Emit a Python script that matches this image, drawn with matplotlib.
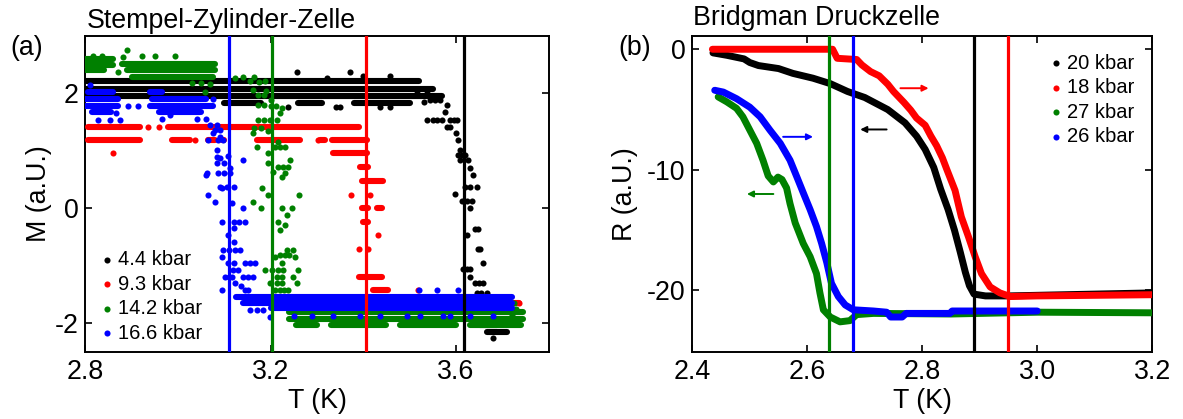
"""Two-panel figure: M(T) in piston-cylinder cell and R(T) in Bridgman cell."""

import matplotlib
matplotlib.use('Agg')
import matplotlib.pyplot as plt

plt.rcParams['font.family'] = ['Liberation Sans', 'DejaVu Sans']
plt.rcParams['axes.unicode_minus'] = False

# ---------------- panel (a): magnetisation, scattered digitised readings ----------------
# runs of consecutive readings at one level: (T_start, T_end, M)
BLACK_RUNS = [(2.800, 3.520, 2.22), (2.800, 3.550, 2.08), (2.800, 3.570, 1.95),
              (3.100, 3.180, 1.84), (3.260, 3.310, 1.84), (3.380, 3.500, 1.84),
              (3.652, 3.688, -2.03), (3.666, 3.710, -2.15)]
BLACK_T = [3.256, 3.371, 3.321, 3.400, 3.457, 3.237, 3.342, 3.436, 3.457, 3.350,
           3.516, 3.537, 3.530, 3.544, 3.555, 3.565, 3.537, 3.550, 3.560, 3.570,
           3.576, 3.580, 3.587, 3.595, 3.602, 3.580, 3.587, 3.600, 3.605, 3.609,
           3.605, 3.613, 3.620, 3.609, 3.626, 3.630, 3.637, 3.619, 3.630, 3.645,
           3.598, 3.613, 3.623, 3.634, 3.630, 3.641, 3.647, 3.624, 3.647, 3.652,
           3.659, 3.615, 3.623, 3.630, 3.630, 3.641, 3.650, 3.659, 3.645, 3.655,
           3.666, 3.670, 3.680, 3.680]
BLACK_M = [2.38, 2.38, 2.27, 2.30, 2.30, 1.77, 1.77, 1.77, 1.77, 1.77,
           2.00, 2.00, 1.85, 1.89, 1.89, 1.89, 1.54, 1.54, 1.54, 1.54,
           1.68, 1.80, 1.54, 1.54, 1.54, 1.42, 1.42, 1.31, 1.19, 1.02,
           0.93, 0.93, 0.93, 0.84, 0.84, 0.70, 0.58, 0.37, 0.37, 0.37,
           0.25, 0.12, 0.12, 0.12, 0.00, -0.36, -0.36, -0.46, -0.71, -0.71,
           -0.95, -1.06, -1.06, -1.06, -1.19, -1.30, -1.30, -1.30, -1.47, -1.47,
           -1.47, -1.70, -1.80, -2.26]

RED_RUNS = [(2.806, 2.918, 1.41), (2.978, 3.390, 1.41),
            (2.806, 2.918, 1.19), (2.987, 3.026, 1.19), (3.065, 3.080, 1.19),
            (3.095, 3.100, 1.19), (3.171, 3.263, 1.19), (3.306, 3.317, 1.19),
            (3.332, 3.407, 1.19), (3.335, 3.407, 0.96), (3.393, 3.410, 0.72),
            (3.397, 3.442, 0.47), (3.397, 3.410, 0.00), (3.430, 3.440, 0.00),
            (3.400, 3.410, -0.23), (3.390, 3.440, -1.19), (3.420, 3.453, -1.42),
            (3.440, 3.735, -1.65)]
RED_T = [2.935, 2.960, 3.037, 3.303, 2.860, 3.373, 3.414, 3.432, 3.391, 3.410, 3.518, 3.735]
RED_M = [1.41, 1.41, 1.19, 1.19, 0.96, 0.23, 0.23, -0.46, -0.71, -0.71, -1.42, -1.65]

GREEN_RUNS = [(2.800, 2.860, 2.60), (2.800, 2.860, 2.49), (2.800, 2.840, 2.40),
              (2.880, 3.080, 2.52), (2.890, 3.080, 2.40), (2.900, 3.075, 2.29),
              (3.240, 3.745, -1.80), (3.240, 3.745, -1.92), (3.255, 3.300, -2.03),
              (3.330, 3.450, -2.03), (3.480, 3.600, -2.03), (3.630, 3.740, -2.03)]
GREEN_T = [2.836, 2.816, 2.889, 2.882, 2.922, 2.950, 2.994, 2.870, 3.030, 3.050, 3.070, 3.058,
           3.123, 3.140, 3.155, 3.165, 3.175, 3.188, 3.162, 3.172, 3.185, 3.200, 3.190,
           3.172, 3.185, 3.200, 3.212, 3.224, 3.220, 3.172, 3.185, 3.198, 3.213,
           3.165, 3.180, 3.195, 3.162, 3.216, 3.170, 3.210, 3.220, 3.230,
           3.194, 3.194, 3.216, 3.226, 3.237, 3.242, 3.205, 3.224, 3.231,
           3.181, 3.194, 3.162, 3.180, 3.224, 3.246, 3.261,
           3.216, 3.231, 3.220, 3.235, 3.235, 3.248, 3.220, 3.230, 3.240, 3.209, 3.252,
           3.188, 3.203, 3.216, 3.227, 3.259, 3.224, 3.213, 3.224, 3.213, 3.224,
           3.248, 3.256, 3.198, 3.209, 3.220, 3.228, 3.237, 3.198, 3.206, 3.213,
           3.725, 3.730, 3.720]
GREEN_M = [2.66, 2.66, 2.76, 2.64, 2.66, 2.66, 2.66, 2.38, 2.18, 2.18, 2.16, 2.03,
           2.27, 2.28, 2.22, 2.28, 2.20, 2.22, 2.06, 1.97, 1.97, 1.89, 2.05,
           1.80, 1.80, 1.78, 1.78, 1.75, 1.66, 1.54, 1.54, 1.54, 1.54,
           1.40, 1.40, 1.35, 1.31, 1.16, 1.07, 1.07, 1.07, 1.07,
           0.96, 0.79, 0.72, 0.72, 0.72, 0.84, 0.63, 0.55, 0.62,
           0.35, 0.23, 0.11, 0.00, 0.00, 0.00, 0.23,
           -0.24, -0.29, -0.38, -0.11, -0.72, -0.72, -0.81, -0.81, -0.81, -0.85, -0.85,
           -1.07, -1.07, -1.07, -1.07, -1.07, -0.95, -1.19, -1.19, -1.30, -1.30,
           -1.19, -1.30, -1.30, -1.42, -1.42, -1.42, -1.42, -1.59, -1.59, -1.59,
           -1.65, -1.75, -1.85]

BLUE_RUNS = [(2.805, 2.860, 2.03), (2.800, 2.870, 1.91), (2.800, 2.870, 1.79),
             (2.815, 2.855, 1.67), (2.940, 2.965, 2.03), (2.945, 3.060, 1.91),
             (2.940, 3.075, 1.79), (2.960, 3.050, 1.67),
             (3.125, 3.720, -1.55), (3.140, 3.720, -1.65), (3.200, 3.720, -1.74)]
BLUE_T = [2.810, 2.827, 2.853, 2.875, 2.866, 2.892, 2.914, 2.965, 2.983, 3.041, 3.060, 3.076,
          3.070, 3.085, 3.080, 3.090, 3.076, 3.090, 3.097, 3.065, 3.087,
          3.084, 3.084, 3.084, 3.090, 3.100, 3.112, 3.108, 3.141, 3.060,
          3.062, 3.087, 3.100, 3.112, 3.090, 3.105, 3.120, 3.095, 3.065, 3.080,
          3.117, 3.141, 3.120, 3.132, 3.145, 3.095, 3.120, 3.108, 3.120,
          3.098, 3.110, 3.122, 3.134, 3.095, 3.108, 3.120, 3.130, 3.118,
          3.145, 3.155, 3.166, 3.102, 3.110, 3.117, 3.141, 3.152, 3.162,
          3.095, 3.123, 3.135, 3.145, 3.152, 3.156, 3.170, 3.184, 3.198,
          3.520, 3.560, 3.605, 3.335, 3.393, 3.436, 3.494, 3.522, 3.572,
          3.587, 3.630, 3.680, 3.250, 3.290]
BLUE_M = [2.15, 1.54, 1.54, 1.54, 1.66, 1.79, 1.79, 1.55, 1.62, 1.55, 1.55, 1.90,
          1.45, 1.45, 1.36, 1.36, 1.31, 1.25, 1.19, 1.19, 1.19,
          1.02, 0.90, 0.79, 0.88, 0.79, 0.70, 0.91, 0.84, 0.58,
          0.62, 0.62, 0.62, 0.62, 0.37, 0.37, 0.37, 0.35, 0.23, 0.11,
          0.09, 0.00, -0.24, -0.24, -0.24, -0.24, -0.35, -0.46, -0.58,
          -0.72, -0.72, -0.72, -0.72, -0.85, -0.95, -0.95, -1.07, -1.07,
          -0.95, -0.95, -0.95, -1.19, -1.19, -1.19, -1.19, -1.19, -1.19,
          -1.42, -1.30, -1.35, -1.42, -1.42, -1.77, -1.77, -1.77, -1.89,
          -1.42, -1.42, -1.42, -1.88, -1.88, -1.88, -1.88, -1.88, -1.88,
          -1.88, -1.88, -1.88, -1.87, -1.87]

LABELS_A = ['4.4 kbar', '9.3 kbar', '14.2 kbar', '16.6 kbar']
TC_A = [3.617, 3.406, 3.202, 3.111]   # black, red, green, blue

# ---------------- panel (b): resistance ----------------
BLACK_RT = [2.436, 2.460, 2.490, 2.500, 2.515, 2.550, 2.575, 2.610, 2.640, 2.670, 2.700,
            2.740, 2.770, 2.790, 2.805, 2.820, 2.832, 2.845, 2.856, 2.866, 2.875, 2.882,
            2.890, 2.910, 2.950, 3.050, 3.200]
BLACK_R = [-0.3, -0.5, -0.8, -1.1, -1.35, -1.6, -2.0, -2.4, -2.85, -3.5, -4.0,
           -5.0, -6.1, -7.2, -8.3, -9.8, -11.6, -13.3, -15.0, -16.8, -18.5, -19.6,
           -20.3, -20.45, -20.45, -20.35, -20.2]

RED_RT = [2.435, 2.644, 2.652, 2.686, 2.695, 2.710, 2.725, 2.740, 2.750, 2.768, 2.780,
          2.790, 2.805, 2.815, 2.825, 2.835, 2.843, 2.857, 2.868, 2.880, 2.892, 2.903,
          2.918, 2.935, 2.953, 3.000, 3.100, 3.200]
RED_R = [0.0, 0.0, -0.75, -0.85, -1.3, -1.85, -2.2, -2.9, -3.5, -4.4, -5.05,
         -5.7, -6.3, -7.2, -8.0, -9.0, -10.0, -11.7, -13.9, -15.5, -17.2, -18.6,
         -19.7, -20.2, -20.5, -20.45, -20.4, -20.35]

GREEN_RT = [2.445, 2.460, 2.477, 2.488, 2.500, 2.512, 2.523, 2.532, 2.541, 2.549, 2.556,
            2.564, 2.570, 2.579, 2.593, 2.605, 2.616, 2.622, 2.628, 2.640, 2.657, 2.674,
            2.686, 2.715, 2.850, 3.000, 3.200]
GREEN_R = [-3.95, -4.36, -4.9, -5.6, -6.7, -7.8, -9.2, -10.5, -11.0, -10.6, -10.8,
           -11.5, -12.8, -14.4, -16.1, -17.2, -18.6, -20.2, -21.6, -22.2, -22.6, -22.5,
           -22.0, -21.9, -21.95, -21.8, -21.85]

BLUE_RT = [2.439, 2.454, 2.477, 2.500, 2.518, 2.535, 2.553, 2.570, 2.582, 2.593, 2.605,
           2.616, 2.625, 2.634, 2.642, 2.654, 2.666, 2.680, 2.715, 2.738, 2.745, 2.765,
           2.772, 2.848, 2.852, 3.000]
BLUE_R = [-3.4, -3.55, -4.1, -4.8, -5.6, -6.7, -7.8, -9.2, -10.6, -11.9, -13.3,
          -14.7, -16.1, -17.7, -19.4, -20.5, -21.2, -21.6, -21.7, -21.8, -22.2, -22.2,
          -21.9, -21.9, -21.7, -21.7]

LABELS_B = ['20 kbar', '18 kbar', '27 kbar', '26 kbar']
TC_B = [2.890, 2.949, 2.638, 2.680]   # black, red, green, blue

# sweep-direction arrows: (T_tail, T_head, R), colours red, black, blue, green
ARROWS_B = [(2.762, 2.811, -3.23), (2.738, 2.692, -6.65), (2.558, 2.610, -7.26), (2.541, 2.495, -12.0)]
ARROW_COLORS = ['#ff0000', '#000000', '#0000ff', '#008000']

COLORS = ['#000000', '#ff0000', '#008000', '#0000ff']
FS = 19.3
DOT = 4.4   # dot diameter in points

fig = plt.figure(figsize=(11.83, 4.19), dpi=100)
ax1 = fig.add_axes([0.0721, 0.1599, 0.3917, 0.7542])
ax2 = fig.add_axes([0.5852, 0.1599, 0.3888, 0.7542])

# ---- panel (a)
runs_all = [BLACK_RUNS, RED_RUNS, GREEN_RUNS, BLUE_RUNS]
pts_all = [(BLACK_T, BLACK_M), (RED_T, RED_M), (GREEN_T, GREEN_M), (BLUE_T, BLUE_M)]
handles = []
for i, (runs, (tt, mm), c, lab) in enumerate(zip(runs_all, pts_all, COLORS, LABELS_A)):
    ax1.hlines([r[2] for r in runs], [r[0] for r in runs], [r[1] for r in runs],
               colors=c, linewidth=DOT, capstyle='round', zorder=2 + i)
    h = ax1.scatter(tt, mm, s=DOT ** 2, color=c, linewidths=0, zorder=2 + i, label=lab)
    handles.append(h)
for tc, c in zip(TC_A, COLORS):
    ax1.axvline(tc, color=c, lw=2.3, zorder=8)

ax1.set_xlim(2.8, 3.8)
ax1.set_ylim(-2.5, 3.0)
ax1.set_xticks([2.8, 3.2, 3.6])
ax1.set_yticks([-2, 0, 2])
ax1.set_xlabel('T (K)', fontsize=FS, labelpad=2)
ax1.set_ylabel('M (a.U.)', fontsize=FS, labelpad=2)
ax1.legend(handles=handles, loc='lower left', bbox_to_anchor=(0.033, 0.03),
           frameon=False, fontsize=14.5, handlelength=0.6, handletextpad=0.25,
           labelspacing=0.27, borderpad=0, borderaxespad=0, scatterpoints=1)
ax1.text(0.004, 1.026, 'Stempel-Zylinder-Zelle', transform=ax1.transAxes,
         ha='left', va='baseline', fontsize=FS)

# ---- panel (b)
curves = [(BLACK_RT, BLACK_R), (RED_RT, RED_R), (GREEN_RT, GREEN_R), (BLUE_RT, BLUE_R)]
handles_b = []
for i, (tt, rr) in enumerate(curves):
    ax2.plot(tt, rr, color=COLORS[i], lw=5.0, solid_capstyle='round',
             solid_joinstyle='round', zorder=2 + i)
    h = ax2.scatter([], [], s=DOT ** 2, color=COLORS[i], linewidths=0, label=LABELS_B[i])
    handles_b.append(h)
for tc, c in zip(TC_B, COLORS):
    ax2.axvline(tc, color=c, lw=2.3, zorder=8)
for (t0, t1, r), c in zip(ARROWS_B, ARROW_COLORS):
    ax2.annotate('', xy=(t1, r), xytext=(t0, r),
                 arrowprops=dict(arrowstyle='-|>', color=c, lw=1.4,
                                 mutation_scale=9, shrinkA=0, shrinkB=0), zorder=9)

ax2.set_xlim(2.4, 3.2)
ax2.set_ylim(-25.1, 1.1)
ax2.set_xticks([2.4, 2.6, 2.8, 3.0, 3.2])
ax2.set_xticklabels(['2.4', '2.6', '2.8', '3.0', '3.2'])
ax2.set_yticks([-20, -10, 0])
ax2.set_xlabel('T (K)', fontsize=FS, labelpad=2)
ax2.set_ylabel('R (a.U.)', fontsize=FS, labelpad=6)
ax2.legend(handles=handles_b, loc='upper left', bbox_to_anchor=(0.7785, 0.944),
           frameon=False, fontsize=14.5, handlelength=0.6, handletextpad=0.25,
           labelspacing=0.27, borderpad=0, borderaxespad=0, scatterpoints=1)
ax2.text(0.002, 1.035, 'Bridgman Druckzelle', transform=ax2.transAxes,
         ha='left', va='baseline', fontsize=FS)

for ax in (ax1, ax2):
    ax.tick_params(direction='in', top=True, right=True, length=5, width=1.2,
                   labelsize=FS, pad=5)
    for sp in ax.spines.values():
        sp.set_linewidth(1.4)

fig.text(0.0085, 0.8866, '(a)', fontsize=FS, va='center', ha='left')
fig.text(0.5224, 0.8866, '(b)', fontsize=FS, va='center', ha='left')

fig.savefig('out.png', dpi=100)
